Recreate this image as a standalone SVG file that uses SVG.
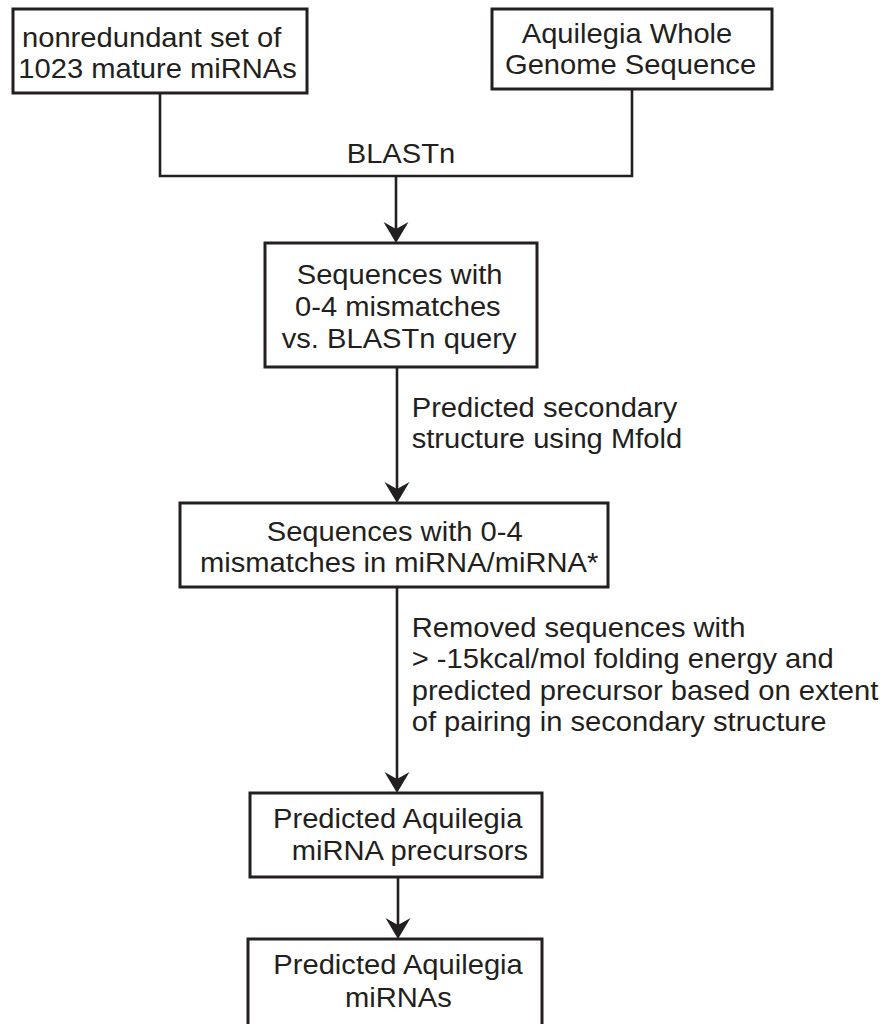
<svg xmlns="http://www.w3.org/2000/svg" width="887" height="1024" viewBox="0 0 887 1024">
<style>
.box{fill:#fff;stroke:#231f20;stroke-width:3}
.edge{fill:none;stroke:#231f20;stroke-width:2.6}
.t{font-family:"Liberation Sans",Arial,Helvetica,sans-serif;font-size:27.5px;fill:#231f20}
</style>
<defs>
<marker id="arr" viewBox="0 -13 22 26" refX="11" refY="0" markerWidth="22" markerHeight="26" markerUnits="userSpaceOnUse" orient="auto">
<path d="M0,-12.5 L21,0 L0,12.5 L7,0 Z" fill="#231f20"/>
</marker>
</defs>
<rect width="887" height="1024" fill="#fff"/>
<g id="connectors">
<polyline class="edge" points="160,93 160,176 632,176 632,89"/>
<line class="edge" x1="396" y1="176" x2="396" y2="233" marker-end="url(#arr)"/>
<text class="t" transform="matrix(1.06 0 0 1 346.7 163)">BLASTn</text>
<line class="edge" x1="397" y1="367" x2="397" y2="493" marker-end="url(#arr)"/>
<text class="t" transform="matrix(1.06 0 0 1 411.7 417)">Predicted secondary</text>
<text class="t" transform="matrix(1.06 0 0 1 411.7 448)">structure using Mfold</text>
<line class="edge" x1="397" y1="587" x2="397" y2="783" marker-end="url(#arr)"/>
<text class="t" transform="matrix(1.06 0 0 1 411.7 636.5)">Removed sequences with</text>
<text class="t" transform="matrix(1.06 0 0 1 411.7 668)">&gt; -15kcal/mol folding energy and</text>
<text class="t" transform="matrix(1.06 0 0 1 411.7 699.5)">predicted precursor based on extent</text>
<text class="t" transform="matrix(1.06 0 0 1 411.7 731)">of pairing in secondary structure</text>
<line class="edge" x1="398" y1="877" x2="398" y2="929" marker-end="url(#arr)"/>
</g>
<g id="n1">
<rect class="box" x="13" y="9" width="294" height="84"/>
<text class="t" transform="matrix(1.06 0 0 1 22 47)">nonredundant set of</text>
<text class="t" transform="matrix(1.06 0 0 1 18.3 78)">1023 mature miRNAs</text>
</g>
<g id="n2">
<rect class="box" x="492" y="9" width="280" height="80"/>
<text class="t" transform="matrix(1.06 0 0 1 521.7 43)">Aquilegia Whole</text>
<text class="t" transform="matrix(1.06 0 0 1 505 74)">Genome Sequence</text>
</g>
<g id="n3">
<rect class="box" x="265" y="243" width="272" height="124"/>
<text class="t" transform="matrix(1.06 0 0 1 296.7 284)">Sequences with</text>
<text class="t" transform="matrix(1.06 0 0 1 295 316)">0-4 mismatches</text>
<text class="t" transform="matrix(1.06 0 0 1 281.7 348)">vs. BLASTn query</text>
</g>
<g id="n4">
<rect class="box" x="180" y="503" width="428" height="84"/>
<text class="t" transform="matrix(1.06 0 0 1 266.7 541)">Sequences with 0-4</text>
<text class="t" transform="matrix(1.06 0 0 1 200 572)">mismatches in miRNA/miRNA*</text>
</g>
<g id="n5">
<rect class="box" x="250" y="793" width="292" height="84"/>
<text class="t" transform="matrix(1.06 0 0 1 273 828)">Predicted Aquilegia</text>
<text class="t" transform="matrix(1.06 0 0 1 291.7 860)">miRNA precursors</text>
</g>
<g id="n6">
<rect class="box" x="248" y="939" width="294" height="95"/>
<text class="t" transform="matrix(1.06 0 0 1 273.3 974)">Predicted Aquilegia</text>
<text class="t" transform="matrix(1.06 0 0 1 345 1006.5)">miRNAs</text>
</g>
</svg>
